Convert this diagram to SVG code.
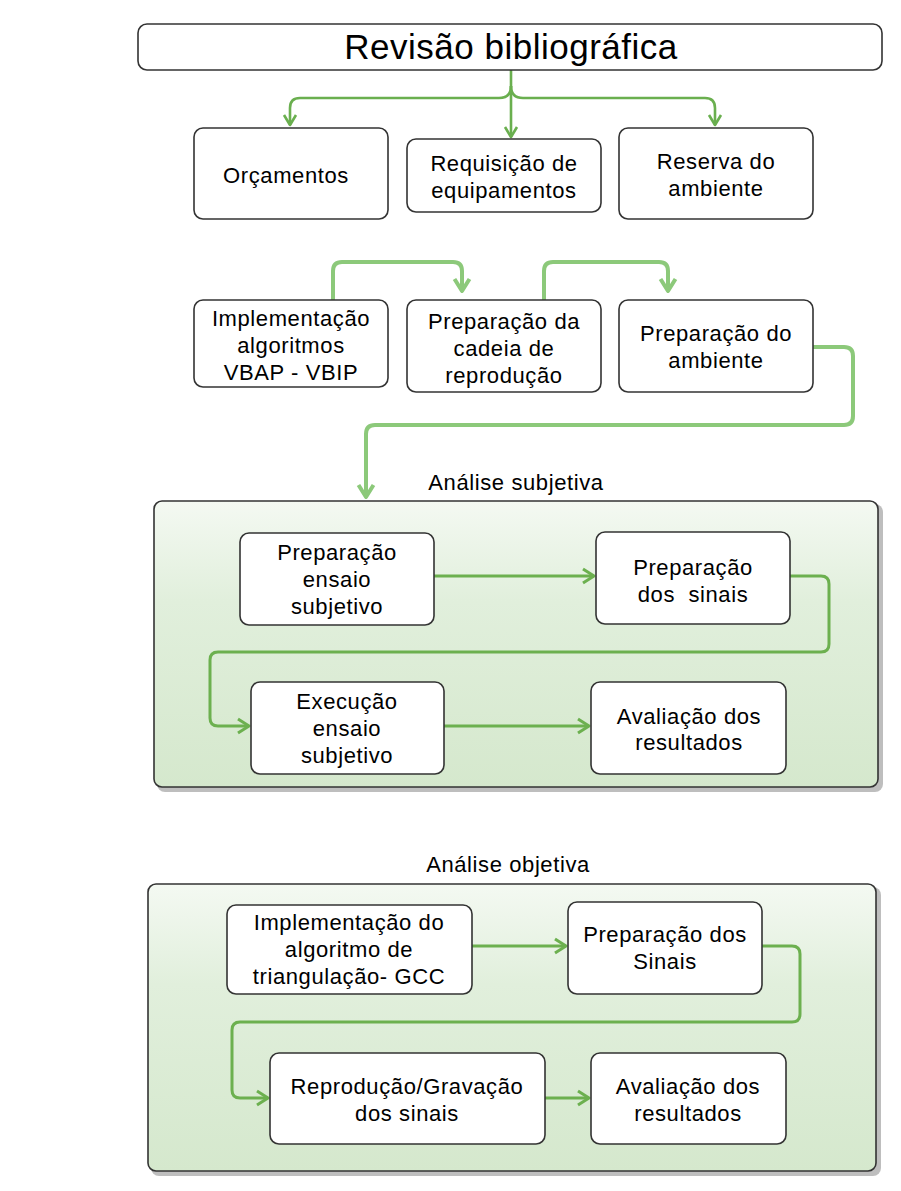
<svg xmlns="http://www.w3.org/2000/svg" width="901" height="1191" viewBox="0 0 901 1191">
<defs>
<style>
text{font-family:"Liberation Sans",Arial,sans-serif;font-size:22px;letter-spacing:0.6px;fill:#000;text-anchor:middle}
.box{fill:#fff;stroke:#333;stroke-width:1.6}
.cont{fill:url(#g);stroke:#333;stroke-width:1.6}
.shadow{fill:#888;opacity:.55}
.c1{fill:none;stroke:#6aaf4f;stroke-width:2.6;stroke-linejoin:round}
.c2{fill:none;stroke:#8cc97a;stroke-width:4;stroke-linejoin:round}
.c3{fill:none;stroke:#6cb04f;stroke-width:3;stroke-linejoin:round}
</style>
<linearGradient id="g" x1="0" y1="0" x2="0" y2="1">
<stop offset="0" stop-color="#f4f9f2"/>
<stop offset="0.35" stop-color="#e1efdc"/>
<stop offset="1" stop-color="#d5e8cd"/>
</linearGradient>
<marker id="a1" viewBox="-12 -8 14 16" refX="0" refY="0" markerWidth="14" markerHeight="16" markerUnits="userSpaceOnUse" orient="auto">
<path d="M-10,-6 L0,0 L-10,6" fill="none" stroke="#6aaf4f" stroke-width="2.6" stroke-linejoin="round"/>
</marker>
<marker id="a2" viewBox="-15 -10 17 20" refX="0" refY="0" markerWidth="17" markerHeight="20" markerUnits="userSpaceOnUse" orient="auto">
<path d="M-12,-7.5 L0,0 L-12,7.5" fill="none" stroke="#8cc97a" stroke-width="4" stroke-linejoin="round"/>
</marker>
<marker id="a3" viewBox="-13 -9 15 18" refX="0" refY="0" markerWidth="15" markerHeight="18" markerUnits="userSpaceOnUse" orient="auto">
<path d="M-11,-7 L0,0 L-11,7" fill="none" stroke="#6cb04f" stroke-width="3" stroke-linejoin="round"/>
</marker>
</defs>

<g id="containers">
<rect class="shadow" x="157" y="504" width="726" height="288" rx="8"/>
<rect class="cont" x="154" y="501" width="724" height="286" rx="8"/>
<text x="516" y="490">Análise subjetiva</text>
<rect class="shadow" x="151" y="887" width="730" height="289" rx="8"/>
<rect class="cont" x="148" y="884" width="728" height="287" rx="8"/>
<text x="508" y="872">Análise objetiva</text>
</g>

<g id="connectors">
<path class="c1" d="M511,70 V137" marker-end="url(#a1)"/>
<path class="c1" d="M511,86 Q511,98 499,98 H300 Q290,98 290,108 V125" marker-end="url(#a1)"/>
<path class="c1" d="M511,86 Q511,98 523,98 H705 Q715,98 715,108 V125" marker-end="url(#a1)"/>
<path class="c2" d="M333,300 V271 Q333,262 342,262 H453 Q462,262 462,271 V291" marker-end="url(#a2)"/>
<path class="c2" d="M544,300 V271 Q544,262 553,262 H659 Q668,262 668,271 V291" marker-end="url(#a2)"/>
<path class="c2" d="M813,347 H844 Q853,347 853,356 V416 Q853,425 844,425 H375 Q366,425 366,434 V497" marker-end="url(#a2)"/>
<path class="c3" d="M434,576 H594" marker-end="url(#a3)"/>
<path class="c3" d="M790,576 H821 Q829,576 829,584 V644 Q829,652 821,652 H218 Q210,652 210,660 V718 Q210,726 218,726 H249" marker-end="url(#a3)"/>
<path class="c3" d="M444,726 H589" marker-end="url(#a3)"/>
<path class="c3" d="M472,946 H566" marker-end="url(#a3)"/>
<path class="c3" d="M762,946 H792 Q800,946 800,954 V1014 Q800,1022 792,1022 H240 Q232,1022 232,1030 V1090 Q232,1098 240,1098 H268" marker-end="url(#a3)"/>
<path class="c3" d="M545,1098 H589" marker-end="url(#a3)"/>
</g>

<g id="n-revisao">
<rect class="box" x="138" y="24" width="744" height="46" rx="9"/>
<text x="511" y="59" style="font-size:35px;letter-spacing:0.5px">Revisão bibliográfica</text>
</g>
<g id="n-orcamentos">
<rect class="box" x="194" y="128" width="194" height="91" rx="9"/>
<text x="286" y="183">Orçamentos</text>
</g>
<g id="n-requisicao">
<rect class="box" x="407" y="139" width="194" height="73" rx="9"/>
<text x="504" y="171">Requisição de</text>
<text x="504" y="198">equipamentos</text>
</g>
<g id="n-reserva">
<rect class="box" x="619" y="128" width="194" height="91" rx="9"/>
<text x="716" y="169">Reserva do</text>
<text x="716" y="196">ambiente</text>
</g>
<g id="n-implementacao">
<rect class="box" x="194" y="300" width="194" height="87" rx="9"/>
<text x="291" y="326">Implementação</text>
<text x="291" y="353">algoritmos</text>
<text x="291" y="380">VBAP - VBIP</text>
</g>
<g id="n-cadeia">
<rect class="box" x="407" y="300" width="194" height="92" rx="9"/>
<text x="504" y="329">Preparação da</text>
<text x="504" y="356">cadeia de</text>
<text x="504" y="383">reprodução</text>
</g>
<g id="n-ambiente">
<rect class="box" x="619" y="300" width="194" height="92" rx="9"/>
<text x="716" y="341">Preparação do</text>
<text x="716" y="368">ambiente</text>
</g>
<g id="n-prep-ensaio">
<rect class="box" x="240" y="533" width="194" height="92" rx="9"/>
<text x="337" y="560">Preparação</text>
<text x="337" y="587">ensaio</text>
<text x="337" y="614">subjetivo</text>
</g>
<g id="n-prep-sinais">
<rect class="box" x="596" y="532" width="194" height="92" rx="9"/>
<text x="693" y="575">Preparação</text>
<text x="693" y="602" xml:space="preserve">dos  sinais</text>
</g>
<g id="n-execucao">
<rect class="box" x="251" y="682" width="193" height="92" rx="9"/>
<text x="347" y="709">Execução</text>
<text x="347" y="736">ensaio</text>
<text x="347" y="763">subjetivo</text>
</g>
<g id="n-avaliacao-subj">
<rect class="box" x="591" y="682" width="195" height="92" rx="9"/>
<text x="689" y="724">Avaliação dos</text>
<text x="689" y="750">resultados</text>
</g>
<g id="n-impl-gcc">
<rect class="box" x="227" y="905" width="245" height="89" rx="9"/>
<text x="349" y="930">Implementação do</text>
<text x="349" y="957">algoritmo de</text>
<text x="349" y="984">triangulação- GCC</text>
</g>
<g id="n-prep-sinais-obj">
<rect class="box" x="568" y="902" width="194" height="92" rx="9"/>
<text x="665" y="942">Preparação dos</text>
<text x="665" y="969">Sinais</text>
</g>
<g id="n-reproducao">
<rect class="box" x="270" y="1053" width="275" height="91" rx="9"/>
<text x="407" y="1094">Reprodução/Gravação</text>
<text x="407" y="1121">dos sinais</text>
</g>
<g id="n-avaliacao-obj">
<rect class="box" x="591" y="1053" width="195" height="91" rx="9"/>
<text x="688" y="1094">Avaliação dos</text>
<text x="688" y="1121">resultados</text>
</g>
</svg>
